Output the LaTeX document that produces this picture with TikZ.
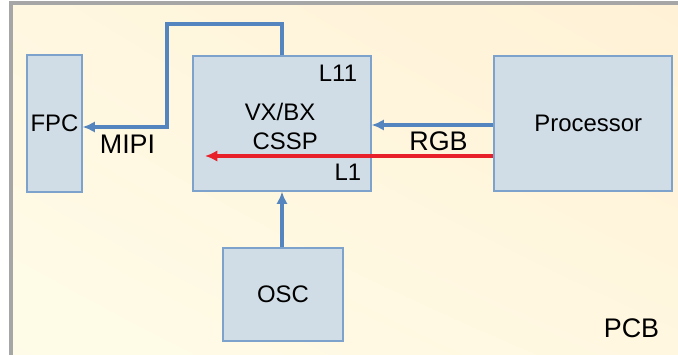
\documentclass[tikz,border=0pt]{standalone}
\usepackage{fontspec}
\setmainfont{Liberation Sans}
\usetikzlibrary{arrows.meta,positioning,calc,shadings}
\definecolor{boxfill}{HTML}{D1DDE6}
\definecolor{boxline}{HTML}{7DA2CB}
\definecolor{sigblue}{HTML}{5585BE}
\definecolor{sigred}{HTML}{E8202A}
\definecolor{pcbgray}{HTML}{A6A6A6}
\definecolor{pcbpale}{HTML}{FEFCE8}
\definecolor{pcbmid}{HTML}{FFF7E0}
\definecolor{pcbwarm}{HTML}{FFF1D5}

\begin{document}
\begin{tikzpicture}[>={Latex[length=7pt,width=6.5pt]},font=\fontsize{13.6}{16}\selectfont]
\tikzstyle{blk}=[draw=boxline,fill=boxfill,line width=0.7pt,inner sep=0pt]
\tikzstyle{sig}=[draw=sigblue,line width=2pt]
\tikzstyle{big}=[font=\fontsize{15.3}{18}\selectfont]
\useasboundingbox (0,0) rectangle (13.56,7.1);
% board
\shade[lower left=pcbpale,upper right=pcbwarm,upper left=pcbmid,lower right=pcbmid] (0.22,-0.2) rectangle (13.8,7.04);
\draw[pcbgray,line width=2pt] (0.22,-0.2) rectangle (13.8,7.04);
% blocks
\node[blk,minimum width=1.1cm,minimum height=2.74cm] (fpc) at (1.09,4.63) {FPC};
\node[blk,minimum width=3.56cm,minimum height=2.7cm] (cssp) at (5.64,4.63) {};
\node[blk,minimum width=3.56cm,minimum height=2.7cm] (proc) at (11.66,4.63) {\hspace{6pt}Processor};
\node[blk,minimum width=2.4cm,minimum height=1.86cm] (osc) at (5.66,1.21) {OSC};
\node[align=center] (core) at (5.6,4.57) {VX/BX\\ \hspace{6pt}CSSP};
\node (l11) at (6.76,5.64) {L11};
\node (l1) at (6.96,3.66) {L1};
% signals
\coordinate (mipitop) at (3.34,6.62);
\coordinate (mipimid) at (3.34,4.56);
\coordinate (redend) at (4.1,3.98);
\draw[sig,->] (cssp.north) |- (mipitop) -- (mipimid) -- (fpc.east |- mipimid);
\draw[sig,->] (proc.west |- 0,4.6) -- (cssp.east |- 0,4.6);
\draw[sigred,line width=2pt,->] (proc.west |- redend) -- (redend);
\draw[sig,->] (osc.north -| cssp.south) -- (cssp.south);
\node[big] (mipi) at (2.55,4.22) {MIPI};
\node[big] (rgb) at (8.77,4.28) {RGB};
\node[big] (pcb) at (12.63,0.54) {PCB};
\end{tikzpicture}
\end{document}
